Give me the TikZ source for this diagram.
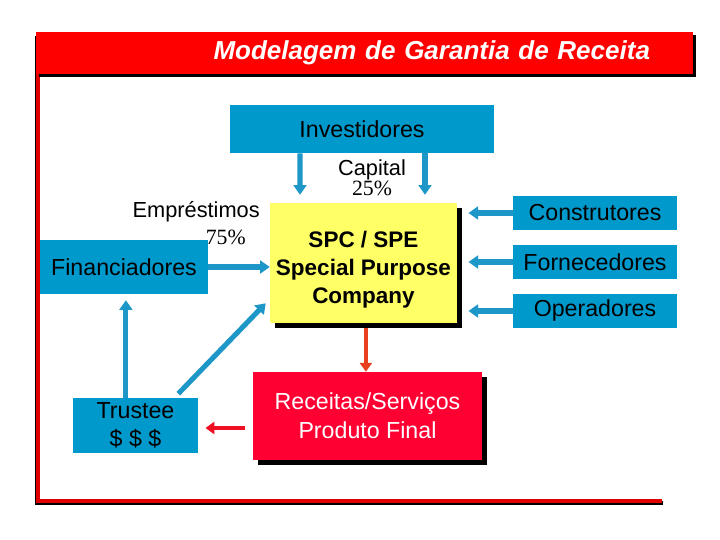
\documentclass[tikz,border=0pt]{standalone}
\usepackage{fontspec}
\setmainfont{Liberation Sans}
\newfontfamily\timesfont{Liberation Serif}
\usepackage{xcolor}
\usetikzlibrary{arrows.meta, shadows}
\definecolor{boxblue}{RGB}{0,153,204}
\definecolor{arrblue}{RGB}{28,151,200}
\definecolor{spcyellow}{RGB}{255,255,102}
\definecolor{recred}{RGB}{255,0,51}
\definecolor{titlered}{RGB}{255,0,0}
\definecolor{framered}{RGB}{225,0,0}
\definecolor{arrorange}{RGB}{232,64,30}
\definecolor{arrred}{RGB}{238,16,34}

\begin{document}
\begin{tikzpicture}[
    party/.style={
        fill=boxblue, minimum width=#1, inner sep=0pt,
        font=\fontsize{16.5}{20}\selectfont, align=center
    },
    dropblack/.style={
        drop shadow={shadow xshift=#1, shadow yshift=-#1, fill=black, opacity=1}
    },
    main/.style={
        fill=#1, inner sep=0pt, align=center, dropblack=0.12cm
    },
    label/.style={font=\fontsize{15.5}{19}\selectfont, align=center, inner sep=0pt},
    arr/.style={-{Triangle[length=2.4mm, width=3.2mm]}, line width=3.6pt, color=arrblue},
    redarr/.style={-{Triangle[length=2.2mm, width=3mm]}, line width=3pt, color=#1}
]
\fill[white] (0,0) rectangle (18,13.5);
\useasboundingbox (0,0) rectangle (18,13.5);

% Frame
\draw[line width=3pt, black] (0.93,12.6) |- (16.57,0.92);
\draw[line width=3pt, framered] (0.95,12.6) |- (16.55,0.97);

% Title
\node[fill=titlered, dropblack=0.07cm, minimum width=16.425cm, minimum height=1.05cm,
      inner xsep=1.075cm, inner ysep=0pt, text width=14.275cm, align=right, text=white,
      font=\bfseries\itshape\fontsize{18.5}{22}\selectfont] (title) at (9.1125,12.175)
      {Modelagem de Garantia de Receita};

% Main boxes
\node[main=spcyellow, minimum width=4.675cm, minimum height=3cm,
      font=\bfseries\fontsize{16}{20}\selectfont] (spc) at (9.0875,6.925)
      {\rule{0pt}{0.75cm}SPC / SPE\\Special Purpose\\Company};
\node[main=recred, minimum width=5.725cm, minimum height=2.2cm, text=white,
      font=\fontsize{16.5}{20.5}\selectfont] (rec) at (9.1875,3.1)
      {Receitas/Serviços\\Produto Final};

% Parties
\node[party=6.6cm, minimum height=1.2cm] (inv) at (9.05,10.275) {Investidores};
\node[party=4.2cm, minimum height=1.35cm] (fin) at (3.1,6.825) {Financiadores};
\node[party=3.125cm, minimum height=1.375cm, font=\fontsize{16.5}{19.5}\selectfont] (tru) at (3.3875,2.8625) {Trustee\\\$ \$ \$};
\node[party=4.1cm, minimum height=0.85cm] (cons) at (14.875,8.175) {Construtores};
\node[party=4.1cm, minimum height=0.85cm] (forn) at (14.875,6.95) {Fornecedores};
\node[party=4.1cm, minimum height=0.85cm] (oper) at (14.875,5.725) {Operadores};

% Labels
\node[label, font=\fontsize{15.5}{13}\selectfont] (cap) at (9.3,9.05) {Capital\\{\timesfont 25\%}};
\node[label, anchor=east, align=right] (emp) at (6.5,7.92) {Empréstimos\\{\timesfont 75\%}\hspace*{0.35cm}};

% Arrows
\draw[arr, shorten >=0.2cm] ([xshift=-1.55cm]inv.south) -- ([xshift=-1.5875cm]spc.north);
\draw[arr, shorten >=0.2cm] ([xshift=1.575cm]inv.south) -- ([xshift=1.5375cm]spc.north);
\draw[arr] (fin.east) -- (fin.east -| spc.west);
\draw[arr, shorten >=0.28cm] (cons.west) -- (cons.west -| spc.east);
\draw[arr, shorten >=0.28cm] (forn.west) -- (forn.west -| spc.east);
\draw[arr, shorten >=0.28cm] (oper.west) -- (oper.west -| spc.east);
\draw[arr, shorten >=0.15cm] ([xshift=-0.24cm]tru.north) -- ([xshift=-0.24cm]tru.north |- fin.south);
\draw[arr] ([shift={(-0.5,0.1)}]tru.north east) -- ([shift={(-0.1,0.5)}]spc.south west);
\draw[redarr=arrorange, shorten <=0.12cm] ([xshift=0.06cm]spc.south) -- ([xshift=0.06cm]spc.south |- rec.north);
\draw[redarr=arrred, shorten <=0.2cm, shorten >=0.18cm] ([yshift=-0.3cm]rec.west) -- ([yshift=-0.3cm]rec.west -| tru.east);

\end{tikzpicture}
\end{document}
